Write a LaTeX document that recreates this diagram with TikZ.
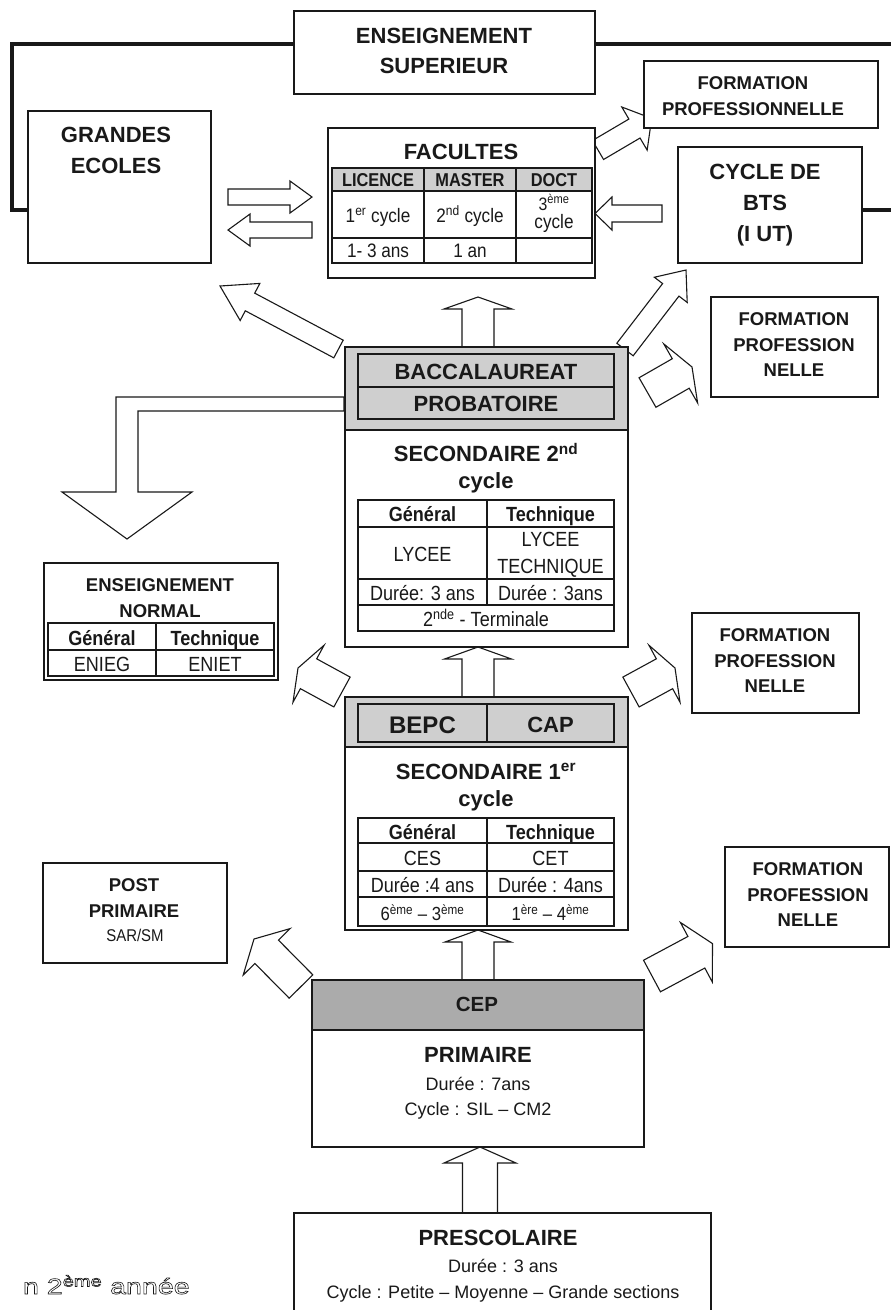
\documentclass[tikz,border=0pt]{standalone}
\usepackage{fontspec}
\setmainfont{Liberation Sans}
\newfontfamily\condfont[FakeStretch=0.88]{Liberation Sans}
\newfontfamily\widefont[FakeStretch=1.3]{Liberation Sans}
\usetikzlibrary{calc}

\definecolor{bandlight}{gray}{0.81}
\definecolor{banddark}{gray}{0.67}
\definecolor{ink}{gray}{0.1}

% block arrow: #1 tail centre, #2 tip, #3 body half width, #4 head half width, #5 head length
\newcommand{\blockarrow}[5]{%
  \coordinate (bab) at ($(#2)!#5pt!(#1)$);
  \draw[blockarr] ($(#1)!#3pt!90:(#2)$) -- ($(bab)!#3pt!90:(#2)$) -- ($(bab)!#4pt!90:(#2)$)
     -- (#2) -- ($(bab)!#4pt!-90:(#2)$) -- ($(bab)!#3pt!-90:(#2)$) -- ($(#1)!#3pt!-90:(#2)$) -- cycle;}

\tikzset{
  frameline/.style={line width=4pt, draw=ink},
  box/.style={draw=ink, line width=1.2pt, fill=white, inner sep=0pt, outer sep=0pt, anchor=north west},
  band/.style={draw=ink, line width=1.2pt},
  grid/.style={draw=ink, line width=1.1pt},
  blockarr/.style={draw=ink, line width=1.1pt, fill=white, line join=miter},
  lbl/.style={anchor=base, inner sep=0pt, outer sep=0pt, text=ink},
  tA/.style={lbl, font=\fontsize{22}{26}\selectfont\bfseries},
  tB/.style={lbl, font=\fontsize{18.5}{22}\selectfont\bfseries},
  cH/.style={lbl, font=\condfont\fontsize{20.5}{24}\selectfont\bfseries},
  cR/.style={lbl, font=\condfont\fontsize{20.5}{24}\selectfont},
  pR/.style={lbl, font=\fontsize{18}{22}\selectfont},
}

\begin{document}
\begin{tikzpicture}[x=1pt,y=-1pt]
\useasboundingbox (0,0) rectangle (891,1310);
\fill[white] (0,0) rectangle (891,1310);

% ---------- thick frame round the higher education block ----------
\coordinate (fr1) at (294,44);
\coordinate (fr2) at (28,210);
\coordinate (fr3) at (595,44);
\coordinate (fr4) at (891,44);
\coordinate (fr5) at (862,210);
\coordinate (fr6) at (891,210);
\draw[frameline] (fr1) -| (12,210) -- (fr2);
\draw[frameline] (fr3) -- (fr4);
\draw[frameline] (fr5) -- (fr6);

% ---------- arrow end points ----------
\coordinate (geT) at (228,197);   \coordinate (geH) at (312,197);
\coordinate (faT) at (312,230);   \coordinate (faH) at (228,230);
\coordinate (btT) at (662,213.5); \coordinate (btH) at (595,213.5);
\coordinate (fpT) at (598,150);   \coordinate (fpH) at (651.7,118.4);
\coordinate (bgT) at (338.5,349); \coordinate (bgH) at (220,286);
\coordinate (bbT) at (625,349.5); \coordinate (bbH) at (686,270);
\coordinate (bfT) at (647.5,392.5); \coordinate (bfH) at (692,367);
\coordinate (enT) at (342,692);   \coordinate (enH) at (298,668);
\coordinate (f3T) at (631,692);   \coordinate (f3H) at (675,668);
\coordinate (f4T) at (652,976);   \coordinate (f4H) at (712.5,943.6);
\coordinate (ppT) at (301,986.5); \coordinate (ppH) at (254,939);
\coordinate (v1T) at (478,347);   \coordinate (v1H) at (478,297);
\coordinate (v2T) at (478,697);   \coordinate (v2H) at (478,647);
\coordinate (v3T) at (478,980);   \coordinate (v3H) at (478,930);
\coordinate (v4T) at (480,1213);  \coordinate (v4H) at (480,1147);
\coordinate (lT) at (344,404);    \coordinate (lH) at (127,539);

% ---------- block arrows ----------
\blockarrow{geT}{geH}{8}{16}{22}
\blockarrow{faT}{faH}{8}{16}{22}
\blockarrow{btT}{btH}{8.5}{16.5}{17}
\blockarrow{fpT}{fpH}{11}{25}{20}
\blockarrow{bgT}{bgH}{10}{21}{34}
\blockarrow{bbT}{bbH}{10.3}{20.7}{25}
\blockarrow{bfT}{bfH}{17}{34}{13}
\blockarrow{enT}{enH}{17}{32.5}{12}
\blockarrow{f3T}{f3H}{17}{32.5}{12}
\blockarrow{f4T}{f4H}{17.9}{33.8}{18.3}
\blockarrow{ppT}{ppH}{16.6}{33}{18}
\blockarrow{v1T}{v1H}{16}{34}{12}
\blockarrow{v2T}{v2H}{16}{33.5}{12}
\blockarrow{v3T}{v3H}{16}{33}{12}
\blockarrow{v4T}{v4H}{17.5}{36}{16}
% bent arrow towards the teacher training schools
\draw[blockarr] ($(lT)+(0,-7)$) -| ($(lH)+(-11,-47)$) -- ++(-54,0) -- (lH)
   -- ($(lH)+(65,-47)$) -- ++(-54,0) |- ($(lT)+(0,7)$) -- cycle;

% ---------- boxes ----------
\node[box, minimum width=301pt, minimum height=83pt]  (enssup) at (294,11) {};
\node[box, minimum width=183pt, minimum height=152pt] (ges)    at (28,111) {};
\node[box, minimum width=267pt, minimum height=150pt] (fac)    at (328,128) {};
\node[box, minimum width=234pt, minimum height=67pt]  (form1)  at (644,61) {};
\node[box, minimum width=184pt, minimum height=116pt] (bts)    at (678,147) {};
\node[box, minimum width=167pt, minimum height=100pt] (form2)  at (711,297) {};
\node[box, minimum width=283pt, minimum height=300pt] (sec2)   at (345,347) {};
\node[box, minimum width=234pt, minimum height=117pt] (ensn)   at (44,563) {};
\node[box, minimum width=167pt, minimum height=100pt] (form3)  at (692,613) {};
\node[box, minimum width=283pt, minimum height=233pt] (sec1)   at (345,697) {};
\node[box, minimum width=184pt, minimum height=100pt] (post)   at (43,863) {};
\node[box, minimum width=164pt, minimum height=100pt] (form4)  at (725,847) {};
\node[box, minimum width=332pt, minimum height=167pt] (prim)   at (312,980) {};
\node[box, minimum width=417pt, minimum height=120pt] (presc)  at (294,1213) {};

% grey certificate bands
\filldraw[band, fill=bandlight] (345,347) rectangle (628,430);
\filldraw[grid, fill=bandlight] (358,354) rectangle (614,419);
\draw[grid] (358,387) -- (614,387);
\filldraw[band, fill=bandlight] (345,697) rectangle (628,747);
\filldraw[grid, fill=bandlight] (358,704) rectangle (614,742);
\draw[grid] (487,704) -- (487,742);
\filldraw[band, fill=banddark] (312,980) rectangle (644,1030);

% ---------- tables ----------
% facultes
\filldraw[grid, fill=bandlight] (332,168) rectangle (592,191);
\draw[grid] (332,168) rectangle (592,263);
\draw[grid] (332,238) -- (592,238);
\draw[grid] (424,168) -- (424,263) (516,168) -- (516,263);
% secondaire 2nd cycle
\draw[grid] (358,500) rectangle (614,631);
\draw[grid] (358,527) -- (614,527) (358,579) -- (614,579) (358,605) -- (614,605);
\draw[grid] (487,500) -- (487,605);
% secondaire 1er cycle
\draw[grid] (358,818) rectangle (614,926);
\draw[grid] (358,843) -- (614,843) (358,871) -- (614,871) (358,897) -- (614,897);
\draw[grid] (487,818) -- (487,926);
% enseignement normal
\draw[grid] (48,623) rectangle (274,676);
\draw[grid] (48,650) -- (274,650);
\draw[grid] (156,623) -- (156,676);

% ---------- texts ----------
\node[tA] (t-es1) at (444,43.3) {ENSEIGNEMENT};
\node[tA] (t-es2) at (444,73.3) {SUPERIEUR};
\node[tA] (t-ge1) at (116,142.7) {GRANDES};
\node[tA] (t-ge2) at (116,173.3) {ECOLES};
\node[tB] (t-f11) at (753,89.3) {FORMATION};
\node[tB] (t-f12) at (753,115) {PROFESSIONNELLE};

\node[tA] (t-fac) at (461,159.3) {FACULTES};
\node[cH, font=\condfont\fontsize{18.6}{22}\selectfont\bfseries] (t-lic) at (378,186) {LICENCE};
\node[cH, font=\condfont\fontsize{18.6}{22}\selectfont\bfseries] (t-mas) at (470,186) {MASTER};
\node[cH, font=\condfont\fontsize{18.6}{22}\selectfont\bfseries] (t-doc) at (554,186) {DOCT};
\node[cR, font=\condfont\fontsize{19.5}{22}\selectfont] (t-c1) at (378,222.7) {1\textsuperscript{er} cycle};
\node[cR, font=\condfont\fontsize{19.5}{22}\selectfont] (t-c2) at (470,222.7) {2\textsuperscript{nd} cycle};
\node[cR, font=\condfont\fontsize{18}{22}\selectfont] (t-c3a) at (554,210) {3\textsuperscript{ème}};
\node[cR, font=\condfont\fontsize{19.5}{22}\selectfont] (t-c3b) at (554,228.5) {cycle};
\node[cR, font=\condfont\fontsize{19.5}{22}\selectfont] (t-d1) at (378,257.3) {1- 3 ans};
\node[cR, font=\condfont\fontsize{19.5}{22}\selectfont] (t-d2) at (470,257.3) {1 an};

\node[tA] (t-bt1) at (765,179.3) {CYCLE DE};
\node[tA] (t-bt2) at (765,210) {BTS};
\node[tA] (t-bt3) at (765,241.7) {(I UT)};

\node[tA] (t-bac) at (486,379.3) {BACCALAUREAT};
\node[tA] (t-pro) at (486,411.7) {PROBATOIRE};
\node[tA] (t-s21) at (486,461.7) {SECONDAIRE 2\textsuperscript{nd}};
\node[tA] (t-s22) at (486,488) {cycle};
\node[cH] (t-s2g) at (422.5,521.7) {Général};
\node[cH] (t-s2t) at (550.5,521.7) {Technique};
\node[cR] (t-ly1) at (422.5,561.7) {LYCEE};
\node[cR] (t-ly2) at (550.5,546.7) {LYCEE};
\node[cR] (t-ly3) at (550.5,573.3) {TECHNIQUE};
\node[cR] (t-s2d1) at (422.5,600) {Durée: 3 ans};
\node[cR] (t-s2d2) at (550.5,600) {Durée : 3ans};
\node[cR] (t-s2c) at (486,626.7) {2\textsuperscript{nde} - Terminale};

\node[tB] (t-f21) at (794,325.7) {FORMATION};
\node[tB] (t-f22) at (794,351) {PROFESSION};
\node[tB] (t-f23) at (794,376.7) {NELLE};

\node[tB] (t-en1) at (160,591.7) {ENSEIGNEMENT};
\node[tB] (t-en2) at (160,617.7) {NORMAL};
\node[cH] (t-eng) at (102,645) {Général};
\node[cH] (t-ent) at (215,645) {Technique};
\node[cR] (t-eng2) at (102,671.7) {ENIEG};
\node[cR] (t-ent2) at (215,671.7) {ENIET};

\node[tB] (t-f31) at (775,641.7) {FORMATION};
\node[tB] (t-f32) at (775,667.3) {PROFESSION};
\node[tB] (t-f33) at (775,692.7) {NELLE};

\node[lbl, font=\fontsize{24}{28}\selectfont\bfseries] (t-bepc) at (422.5,733.3) {BEPC};
\node[lbl, font=\fontsize{22}{26}\selectfont\bfseries] (t-cap) at (550.5,732.3) {CAP};
\node[tA] (t-s11) at (486,779.3) {SECONDAIRE 1\textsuperscript{er}};
\node[tA] (t-s12) at (486,806.7) {cycle};
\node[cH] (t-s1g) at (422.5,839) {Général};
\node[cH] (t-s1t) at (550.5,839) {Technique};
\node[cR] (t-ces) at (422.5,865) {CES};
\node[cR] (t-cet) at (550.5,865) {CET};
\node[cR] (t-s1d1) at (422.5,892.3) {Durée :4 ans};
\node[cR] (t-s1d2) at (550.5,892.3) {Durée : 4ans};
\node[cR, font=\condfont\fontsize{19}{22}\selectfont] (t-cl1) at (422.5,920.7) {6\textsuperscript{ème} – 3\textsuperscript{ème}};
\node[cR, font=\condfont\fontsize{19}{22}\selectfont] (t-cl2) at (550.5,920.7) {1\textsuperscript{ère} – 4\textsuperscript{ème}};

\node[tB] (t-f41) at (808,875) {FORMATION};
\node[tB] (t-f42) at (808,901.7) {PROFESSION};
\node[tB] (t-f43) at (808,926.7) {NELLE};

\node[tB] (t-pp1) at (134,891) {POST};
\node[tB] (t-pp2) at (134,917.3) {PRIMAIRE};
\node[cR, font=\condfont\fontsize{17}{20}\selectfont] (t-pp3) at (135,941.7) {SAR/SM};

\node[lbl, font=\fontsize{20.5}{24}\selectfont\bfseries] (t-cep) at (477,1011.7) {CEP};
\node[tA] (t-pr1) at (478,1062.3) {PRIMAIRE};
\node[pR] (t-pr2) at (478,1090) {Durée : 7ans};
\node[pR] (t-pr3) at (478,1115) {Cycle : SIL – CM2};

\node[tA] (t-ps1) at (498,1245.7) {PRESCOLAIRE};
\node[pR] (t-ps2) at (503,1272.3) {Durée : 3 ans};
\node[pR] (t-ps3) at (503,1298.3) {Cycle : Petite – Moyenne – Grande sections};

% hollow lettering at the bottom left
\node[lbl, anchor=base west, font=\widefont\fontsize{22}{26}\selectfont] (t-an) at (23,1294)
  {\special{pdf:literal direct 1 Tr 0.6 w}n 2\textsuperscript{ème} année\special{pdf:literal direct 0 Tr}};
\end{tikzpicture}
\end{document}
